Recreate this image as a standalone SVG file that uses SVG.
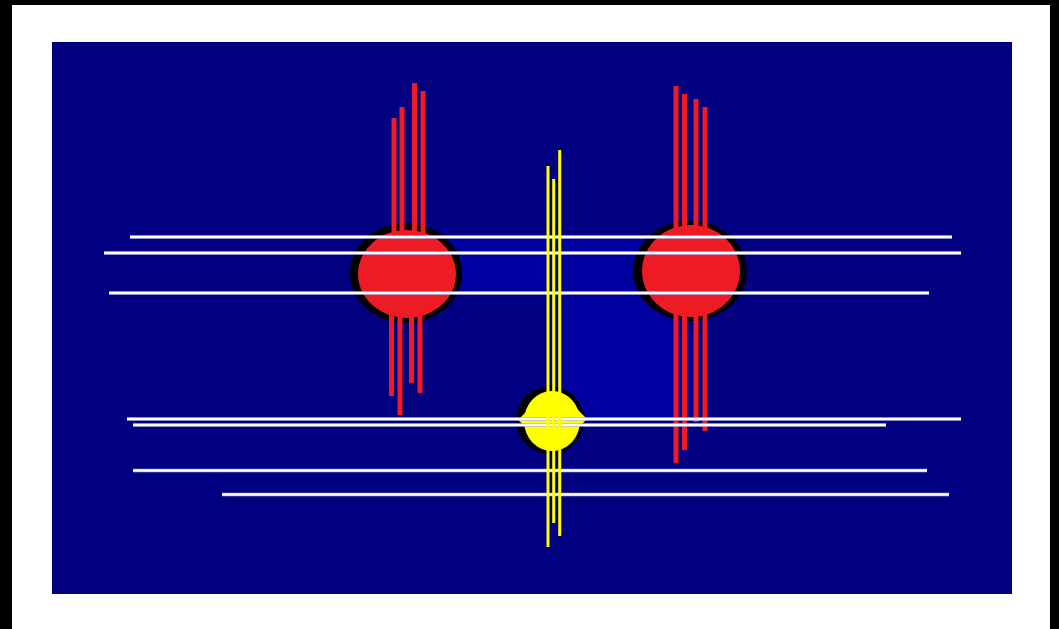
<svg xmlns="http://www.w3.org/2000/svg" width="1059" height="629" viewBox="0 0 1059 629">
<style>
.red{stroke:#ed1c24;stroke-width:5;fill:none}
.wht{stroke:#ffffff;stroke-width:2;fill:none}
.whtb{stroke:#b8b8e8;stroke-width:3.4;fill:none}
.yel{stroke:#ffff00;stroke-width:3;fill:none}
</style>
<rect x="0" y="0" width="1059" height="629" fill="#000000"/>
<rect x="12" y="5" width="1038" height="624" fill="#ffffff"/>
<rect x="52" y="42" width="960" height="552" fill="#000080"/>
<polygon id="region" points="405,237 690,237 690,420 548,420 548,293 405,293" fill="#0000a0"/>
<g id="circleLeft">
<ellipse cx="406" cy="273" rx="56" ry="50" fill="#000000"/>
<ellipse cx="407" cy="274" rx="49" ry="44" fill="#ed1c24"/>
</g>
<g id="circleRight">
<ellipse cx="690" cy="271" rx="57" ry="50" fill="#000000"/>
<ellipse cx="691" cy="271" rx="49" ry="46" fill="#ed1c24"/>
</g>
<g id="circleYellow">
<ellipse cx="550" cy="420" rx="34" ry="34" fill="#000000"/>
<ellipse cx="552" cy="421" rx="28" ry="30" fill="#ffff00"/>
<polygon points="518,420 534,404 572,404 587,419 572,434 534,434" fill="#ffff00"/>
</g>
<g id="connectors">
<g id="redLines">
<line class="red" x1="394" y1="118" x2="394" y2="270"/>
<line class="red" x1="402" y1="107" x2="402" y2="270"/>
<line class="red" x1="414.5" y1="83" x2="414.5" y2="270"/>
<line class="red" x1="423" y1="91" x2="423" y2="270"/>
<line class="red" x1="391.5" y1="275" x2="391.5" y2="396"/>
<line class="red" x1="400" y1="275" x2="400" y2="415"/>
<line class="red" x1="411.5" y1="275" x2="411.5" y2="383"/>
<line class="red" x1="420" y1="275" x2="420" y2="393"/>
<line class="red" x1="676" y1="86" x2="676" y2="463"/>
<line class="red" x1="684.5" y1="94" x2="684.5" y2="450"/>
<line class="red" x1="696" y1="99" x2="696" y2="422"/>
<line class="red" x1="705" y1="107" x2="705" y2="431"/>
</g>
<g id="whiteLines">
<line class="whtb" x1="130" y1="237" x2="952" y2="237"/>
<line class="whtb" x1="104" y1="253" x2="961" y2="253"/>
<line class="whtb" x1="109" y1="293" x2="929" y2="293"/>
<line class="whtb" x1="127" y1="419" x2="961" y2="419"/>
<line class="whtb" x1="133" y1="425" x2="886" y2="425"/>
<line class="whtb" x1="133" y1="470.5" x2="927" y2="470.5"/>
<line class="whtb" x1="222" y1="494.5" x2="949" y2="494.5"/>
<line class="wht" x1="130" y1="237" x2="952" y2="237"/>
<line class="wht" x1="104" y1="253" x2="961" y2="253"/>
<line class="wht" x1="109" y1="293" x2="929" y2="293"/>
<line class="wht" x1="127" y1="419" x2="961" y2="419"/>
<line class="wht" x1="133" y1="425" x2="886" y2="425"/>
<line class="wht" x1="133" y1="470.5" x2="927" y2="470.5"/>
<line class="wht" x1="222" y1="494.5" x2="949" y2="494.5"/>
</g>
<g id="yellowLines">
<line class="yel" x1="548" y1="166" x2="548" y2="547"/>
<line class="yel" x1="553.7" y1="179" x2="553.7" y2="523"/>
<line class="yel" x1="559.7" y1="150" x2="559.7" y2="536"/>
</g>
</g>
</svg>
